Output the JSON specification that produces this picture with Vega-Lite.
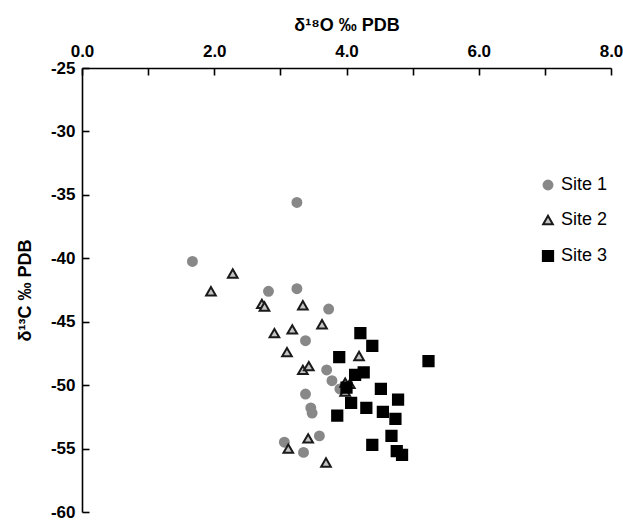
{
  "$schema": "https://vega.github.io/schema/vega-lite/v6.json",
  "autosize": "none",
  "width": 529,
  "height": 444,
  "padding": {"left": 82, "top": 68, "right": 12, "bottom": 13},
  "background": "white",
  "config": {
    "view": {"stroke": null},
    "font": "Liberation Sans",
    "axis": {"grid": false, "domainColor": "#000", "domainWidth": 1.6, "tickColor": "#000", "tickWidth": 1.6, "labelColor": "#000", "titleColor": "#000", "labelFont": "Liberation Sans", "titleFont": "Liberation Sans", "labelFontWeight": "bold", "labelFontSize": 17, "titleFontSize": 18, "titleFontWeight": "bold"}
  },
  "data": {"values": [
    {"site": "Site 1", "o": 3.25, "c": -35.6},
    {"site": "Site 1", "o": 1.67, "c": -40.25},
    {"site": "Site 1", "o": 2.82, "c": -42.6},
    {"site": "Site 1", "o": 3.25, "c": -42.4},
    {"site": "Site 1", "o": 3.73, "c": -44.0},
    {"site": "Site 1", "o": 3.38, "c": -46.5},
    {"site": "Site 1", "o": 3.70, "c": -48.8},
    {"site": "Site 1", "o": 3.78, "c": -49.65},
    {"site": "Site 1", "o": 3.90, "c": -50.3},
    {"site": "Site 1", "o": 3.38, "c": -50.7},
    {"site": "Site 1", "o": 3.46, "c": -51.8},
    {"site": "Site 1", "o": 3.48, "c": -52.2},
    {"site": "Site 1", "o": 3.59, "c": -54.0},
    {"site": "Site 1", "o": 3.06, "c": -54.5},
    {"site": "Site 1", "o": 3.35, "c": -55.3},
    {"site": "Site 2", "o": 2.28, "c": -41.2},
    {"site": "Site 2", "o": 1.95, "c": -42.6},
    {"site": "Site 2", "o": 2.72, "c": -43.6},
    {"site": "Site 2", "o": 2.76, "c": -43.8},
    {"site": "Site 2", "o": 3.34, "c": -43.7},
    {"site": "Site 2", "o": 3.63, "c": -45.2},
    {"site": "Site 2", "o": 3.18, "c": -45.6},
    {"site": "Site 2", "o": 2.91, "c": -45.9},
    {"site": "Site 2", "o": 3.10, "c": -47.4},
    {"site": "Site 2", "o": 4.19, "c": -47.7},
    {"site": "Site 2", "o": 3.34, "c": -48.8},
    {"site": "Site 2", "o": 3.43, "c": -48.5},
    {"site": "Site 2", "o": 3.98, "c": -49.8},
    {"site": "Site 2", "o": 4.05, "c": -49.9},
    {"site": "Site 2", "o": 3.98, "c": -50.5},
    {"site": "Site 2", "o": 3.42, "c": -54.2},
    {"site": "Site 2", "o": 3.12, "c": -55.0},
    {"site": "Site 2", "o": 3.69, "c": -56.1},
    {"site": "Site 3", "o": 4.21, "c": -45.9},
    {"site": "Site 3", "o": 4.39, "c": -46.9},
    {"site": "Site 3", "o": 3.89, "c": -47.8},
    {"site": "Site 3", "o": 5.24, "c": -48.1},
    {"site": "Site 3", "o": 4.13, "c": -49.2},
    {"site": "Site 3", "o": 4.26, "c": -49.0},
    {"site": "Site 3", "o": 4.00, "c": -50.2},
    {"site": "Site 3", "o": 4.52, "c": -50.3},
    {"site": "Site 3", "o": 4.78, "c": -51.15},
    {"site": "Site 3", "o": 4.07, "c": -51.4},
    {"site": "Site 3", "o": 4.30, "c": -51.8},
    {"site": "Site 3", "o": 4.55, "c": -52.1},
    {"site": "Site 3", "o": 4.74, "c": -52.65},
    {"site": "Site 3", "o": 3.86, "c": -52.4},
    {"site": "Site 3", "o": 4.68, "c": -54.0},
    {"site": "Site 3", "o": 4.39, "c": -54.7},
    {"site": "Site 3", "o": 4.76, "c": -55.2},
    {"site": "Site 3", "o": 4.84, "c": -55.5}
  ]},
  "layer": [
    {
      "mark": {"type": "point", "opacity": 0},
      "encoding": {
        "x": {"field": "o", "type": "quantitative",
          "scale": {"domain": [0, 8], "nice": false, "zero": false},
          "axis": {"orient": "bottom", "offset": -444, "values": [0,1,2,3,4,5,6,7,8], "labels": false, "domain": false, "title": null, "tickSize": 7}},
        "y": {"field": "c", "type": "quantitative",
          "scale": {"domain": [-60, -25], "nice": false, "zero": false},
          "axis": {"orient": "right", "offset": -529, "values": [-25,-30,-35,-40,-45,-50,-55,-60], "labels": false, "domain": false, "title": null, "tickSize": 7}}
      }
    },
    {
      "mark": {"type": "point", "filled": false, "strokeWidth": 2, "opacity": 1},
      "encoding": {
        "x": {"field": "o", "type": "quantitative", "title": "δ¹⁸O ‰ PDB",
          "scale": {"domain": [0, 8], "nice": false, "zero": false},
          "axis": {"orient": "top", "values": [0,2,4,6,8], "format": ".1f", "ticks": false, "labelPadding": 8, "titlePadding": 8, "labelFlush": false}},
        "y": {"field": "c", "type": "quantitative", "title": "δ¹³C ‰ PDB",
          "scale": {"domain": [-60, -25], "nice": false, "zero": false},
          "axis": {"orient": "left", "values": [-25,-30,-35,-40,-45,-50,-55,-60], "labelExpr": "'' + datum.value", "ticks": false, "labelPadding": 7, "titlePadding": 16}},
        "shape": {"field": "site", "type": "nominal", "title": null,
          "scale": {"domain": ["Site 1","Site 2","Site 3"], "range": ["circle","triangle-up","square"]},
          "legend": {"orient": "none", "legendX": 457, "legendY": 108, "labelFontSize": 18, "labelFont": "Liberation Sans", "labelColor": "#000", "rowPadding": 17, "symbolStrokeWidth": 2, "labelOffset": 4}},
        "fill": {"field": "site", "type": "nominal", "title": null,
          "scale": {"domain": ["Site 1","Site 2","Site 3"], "range": ["#888888","#c4c4c4","#000000"]}},
        "stroke": {"field": "site", "type": "nominal", "title": null,
          "scale": {"domain": ["Site 1","Site 2","Site 3"], "range": ["#888888","#1a1a1a","#000000"]}},
        "size": {"field": "site", "type": "nominal", "title": null,
          "scale": {"domain": ["Site 1","Site 2","Site 3"], "range": [80, 105, 110]}}
      }
    }
  ],
  "resolve": {"axis": {"x": "independent", "y": "independent"}}
}
